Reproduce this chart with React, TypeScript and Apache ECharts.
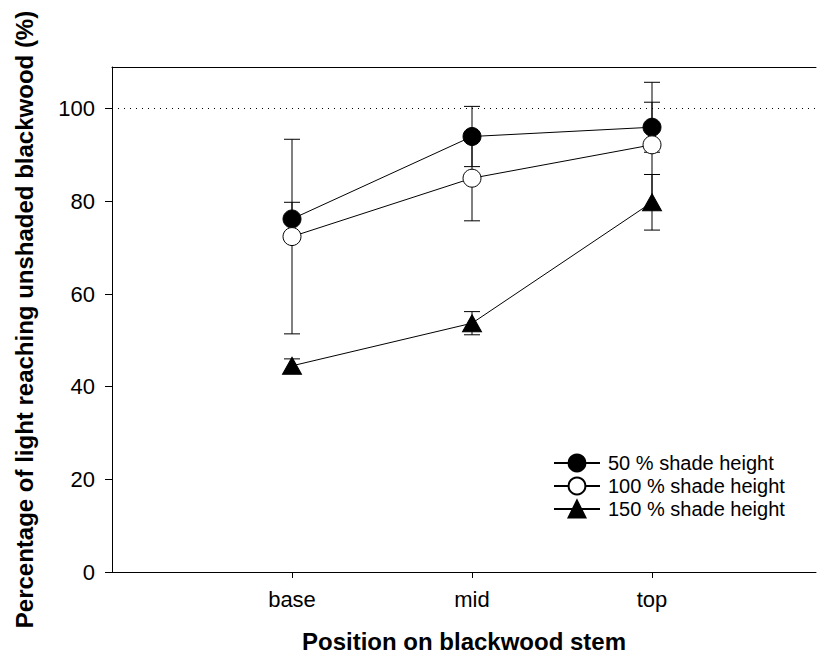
import React, { useEffect, useRef } from "react";
import * as echarts from "echarts";

const positions = ["base", "mid", "top"];
const xPos = [1, 2, 3];
const yTicks = [0, 20, 40, 60, 80, 100];

const seriesNames = ["50 % shade height", "100 % shade height", "150 % shade height"];
const shade50 = [76.2, 94.0, 96.0];
const shade50Err = [3.6, 6.5, 5.4];
const shade100 = [72.4, 85.0, 92.2];
const shade100Err = [21.0, 9.2, 13.5];
const shade150 = [44.5, 53.7, 79.8];
const shade150Err = [1.5, 2.5, 6.0];

const FONT = "'Liberation Sans', Arial, sans-serif";

export default function App() {
  const ref = useRef<HTMLDivElement>(null);
  useEffect(() => {
    if (!ref.current) return;
    const chart = echarts.init(ref.current, undefined, { renderer: "svg" });
    const means = [shade50, shade100, shade150];
    const errs = [shade50Err, shade100Err, shade150Err];
    const errData: number[][] = [];
    means.forEach((m, i) => m.forEach((v, j) => errData.push([xPos[j], v, errs[i][j]])));

    const lineBase = (name: string, vals: number[], extra: any) => ({
      name,
      type: "line",
      z: 5,
      data: vals.map((v, j) => [xPos[j], v]),
      color: "#000",
      lineStyle: { color: "#000", width: 1 },
      ...extra,
    });

    chart.setOption({
      animation: false,
      textStyle: { fontFamily: FONT },
      grid: { left: 112, right: 6, top: 67, bottom: 90 },
      legend: {
        orient: "vertical",
        left: 548,
        top: 448,
        itemWidth: 46,
        itemHeight: 21,
        itemGap: 3,
        data: seriesNames,
        textStyle: { fontSize: 20, color: "#000", fontFamily: FONT, padding: [0, 0, 0, 3] },
      },
      xAxis: [
        {
          type: "value",
          min: 0,
          max: 3.911,
          interval: 1,
          position: "bottom",
          splitLine: { show: false },
          axisLine: { lineStyle: { color: "#000", width: 1 } },
          axisTick: { show: true, length: 6, customValues: xPos, lineStyle: { color: "#000" } },
          axisLabel: {
            customValues: xPos,
            formatter: (v: number) => positions[xPos.indexOf(v)] ?? "",
            fontSize: 22,
            color: "#000",
            margin: 16,
            fontFamily: FONT,
          },
          name: "Position on blackwood stem",
          nameLocation: "middle",
          nameGap: 57,
          nameTextStyle: { fontSize: 24, fontWeight: "bold", color: "#000", fontFamily: FONT },
        },
        {
          type: "value",
          min: 0,
          max: 3.911,
          position: "top",
          splitLine: { show: false },
          axisLine: { show: true, lineStyle: { color: "#000", width: 1 } },
          axisTick: { show: false },
          axisLabel: { show: false },
        },
      ],
      yAxis: {
        type: "value",
        min: 0,
        max: 109,
        interval: 20,
        splitLine: { show: false },
        axisLine: { show: true, lineStyle: { color: "#000", width: 1 } },
        axisTick: { show: true, length: 7, customValues: yTicks, lineStyle: { color: "#000" } },
        axisLabel: { customValues: yTicks, fontSize: 22, color: "#000", margin: 17, fontFamily: FONT },
        name: "Percentage of light reaching unshaded blackwood (%)",
        nameLocation: "middle",
        nameGap: 76,
        nameTextStyle: { fontSize: 24, fontWeight: "bold", color: "#000", fontFamily: FONT },
      },
      series: [
        {
          type: "custom",
          name: "errors",
          z: 3,
          data: errData,
          encode: { x: 0, y: 1 },
          renderItem: (params: any, api: any) => {
            const x = api.value(0);
            const y = api.value(1);
            const e = api.value(2);
            const hi = api.coord([x, y + e]);
            const lo = api.coord([x, y - e]);
            const w = 8;
            const st = { stroke: "#000", lineWidth: 1 };
            return {
              type: "group",
              children: [
                { type: "line", shape: { x1: hi[0], y1: hi[1], x2: lo[0], y2: lo[1] }, style: st },
                { type: "line", shape: { x1: hi[0] - w, y1: hi[1], x2: hi[0] + w, y2: hi[1] }, style: st },
                { type: "line", shape: { x1: lo[0] - w, y1: lo[1], x2: lo[0] + w, y2: lo[1] }, style: st },
              ],
            };
          },
          markLine: {
            silent: true,
            symbol: "none",
            label: { show: false },
            lineStyle: { color: "#000", type: [1, 5], width: 1.2 },
            data: [{ yAxis: 100 }],
          },
        },
        lineBase(seriesNames[0], shade50, {
          symbol: "circle",
          symbolSize: 18,
          itemStyle: { color: "#000", borderColor: "#000", borderWidth: 1 },
        }),
        lineBase(seriesNames[1], shade100, {
          symbol: "circle",
          symbolSize: 18,
          itemStyle: { color: "#fff", borderColor: "#000", borderWidth: 1 },
        }),
        lineBase(seriesNames[2], shade150, {
          symbol: "triangle",
          symbolSize: [19, 17],
          itemStyle: { color: "#000", borderColor: "#000", borderWidth: 1 },
        }),
      ],
    });
    return () => chart.dispose();
  }, []);
  return (
    <div
      ref={ref}
      style={{ position: "absolute", left: 0, top: 0, width: 822, height: 662, background: "#fff" }}
    />
  );
}
